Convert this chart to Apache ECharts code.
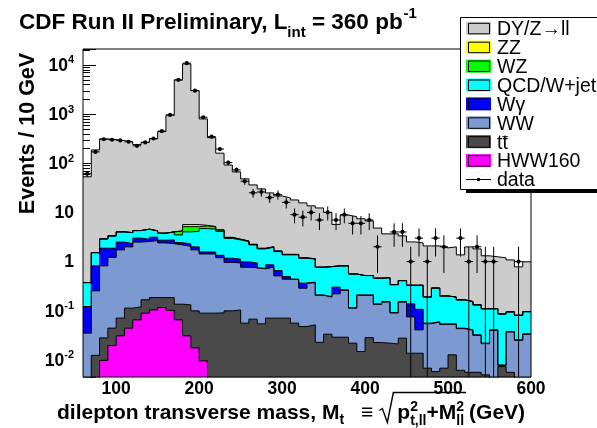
<!DOCTYPE html>
<html>
<head>
<meta charset="utf-8">
<script src="https://cdn.jsdelivr.net/npm/echarts@6/dist/echarts.min.js"></script>
<style>
  html, body { margin: 0; padding: 0; background: #ffffff; }
  #chart { width: 597px; height: 428px; }
</style>
</head>
<body>
<div id="chart"></div>
<script>
// Lower edges of the 10 GeV bins in transverse mass (GeV)
const binLow = [60, 70, 80, 90, 100, 110, 120, 130, 140, 150, 160, 170, 180, 190, 200, 210, 220, 230,
  240, 250, 260, 270, 280, 290, 300, 310, 320, 330, 340, 350, 360, 370, 380, 390, 400, 410, 420, 430,
  440, 450, 460, 470, 480, 490, 500, 510, 520, 530, 540, 550, 560, 570, 580, 590];
const BIN_WIDTH = 10;
const X_MIN = 60;
const X_MAX = 600;

// Stacked totals per bin (events / 10 GeV), each one including every process below it
const topDY = [53, 186, 312, 302, 288, 271, 239, 267, 312, 439, 946, 4930, 10430, 2990, 795, 331, 160, 92,
  66.6, 48, 36.2, 30, 24.9, 21.6, 19.7, 17.9, 15.6, 13.6, 12.3, 10.0, 5.7, 8.8, 8.2, 7.4, 6.7, 4.8, 3.66, 3.66,
  3.33, 2.51, 2.40, 2.08, 2.08, 1.90, 1.99, 1.37, 1.99, 1.81, 1.31, 1.25, 1.19, 1.08, 0.78, 0.99];
const topZZ = [0.374, 1.52, 2.89, 3.33, 4.02, 3.88, 4.27, 4.56, 4.21, 3.78, 4.02, 4.21, 5.65, 5.65, 5.45, 5.14, 4.41, 3.10,
  2.85, 2.62, 2.24, 1.86, 2.00, 1.64, 1.40, 1.40, 1.19, 1.14, 0.77, 0.79, 0.82, 0.82, 0.56, 0.52, 0.52, 0.46, 0.47, 0.34,
  0.41, 0.33, 0.33, 0.19, 0.29, 0.20, 0.19, 0.167, 0.154, 0.132, 0.110, 0.110, 0.086, 0.095, 0.081, 0.096];
const topWZ = [0.374, 1.52, 2.89, 3.33, 4.02, 3.88, 4.27, 4.56, 4.21, 3.78, 4.02, 4.21, 5.14, 5.14, 5.32, 5.14, 4.41, 3.10,
  2.85, 2.62, 2.24, 1.86, 2.00, 1.64, 1.40, 1.40, 1.19, 1.14, 0.77, 0.79, 0.82, 0.82, 0.56, 0.52, 0.52, 0.46, 0.47, 0.34,
  0.41, 0.33, 0.33, 0.19, 0.29, 0.20, 0.19, 0.167, 0.154, 0.132, 0.110, 0.110, 0.086, 0.095, 0.081, 0.096];
const topQCD = [0.374, 1.52, 2.89, 3.33, 4.02, 3.88, 4.27, 4.56, 4.21, 3.78, 4.02, 3.49, 4.02, 4.11, 4.68, 4.56, 4.11, 2.96,
  2.76, 2.55, 2.18, 1.81, 1.96, 1.60, 1.37, 1.37, 1.17, 1.12, 0.77, 0.79, 0.82, 0.82, 0.56, 0.52, 0.52, 0.46, 0.47, 0.34,
  0.41, 0.33, 0.33, 0.19, 0.29, 0.20, 0.19, 0.167, 0.154, 0.132, 0.110, 0.110, 0.086, 0.095, 0.081, 0.096];
const topWgamma = [0.122, 0.818, 1.87, 1.87, 2.49, 2.32, 2.99, 2.85, 3.13, 2.72, 2.76, 2.43, 2.29, 1.99, 1.57, 1.56, 1.34, 1.17,
  1.12, 0.986, 0.94, 0.734, 0.857, 0.656, 0.495, 0.439, 0.364, 0.381, 0.210, 0.194, 0.302, 0.266, 0.116, 0.210, 0.210, 0.138,
  0.154, 0.092, 0.154, 0.138, 0.107, 0.056, 0.060, 0.054, 0.054, 0.0443, 0.0409, 0.0324, 0.0219, 0.0409, 0.0079, 0.0378,
  0.0256, 0.0339];
const topWW = [0.0351, 0.254, 0.818, 1.22, 1.73, 1.99, 2.49, 2.57, 2.67, 2.40, 2.31, 2.18, 2.04, 1.73, 1.43, 1.43, 1.20, 0.963,
  0.94, 0.769, 0.752, 0.711, 0.769, 0.512, 0.439, 0.429, 0.288, 0.369, 0.206, 0.190, 0.221, 0.260, 0.113, 0.206, 0.206, 0.135,
  0.150, 0.090, 0.150, 0.075, 0.0409, 0.0547, 0.0589, 0.053, 0.053, 0.0433, 0.040, 0.0316, 0.0214, 0.040, 0.00777, 0.0369,
  0.025, 0.0331];
const topTT = [0, 0.0124, 0.0281, 0.0443, 0.0708, 0.113, 0.120, 0.167, 0.185, 0.185, 0.185, 0.136, 0.132, 0.0995, 0.0894,
  0.0894, 0.0906, 0.0995, 0.104, 0.056, 0.0675, 0.0542, 0.0708, 0.0708, 0.0708, 0.056, 0.0477, 0.0517, 0.0228, 0.0334, 0.029,
  0.029, 0.0219, 0.0148, 0.0284, 0.0226, 0.0219, 0.0212, 0.0277, 0.0137, 0.0137, 0.0068, 0.0058, 0.0068, 0.0127, 0.00615,
  0.0056, 0.0056, 0.00498, 0, 0.00734, 0.0056, 0, 0];
const topHWW = [0, 0, 0.0098, 0.0196, 0.0309, 0.0443, 0.0653, 0.0894, 0.104, 0.116, 0.102, 0.0653, 0.0309, 0.0176, 0.0096,
  0, 0, 0, 0, 0, 0, 0, 0, 0, 0, 0, 0, 0, 0, 0, 0, 0, 0, 0, 0, 0, 0, 0, 0, 0, 0, 0, 0, 0, 0, 0, 0, 0, 0, 0, 0, 0, 0, 0];

// Observed events per bin
const dataCounts = [61, 170, 307, 300, 290, 273, 226, 265, 318, 450, 960, 4950, 10800, 2990, 860, 347, 194, 103, 73, 43,
  25, 26, 20, 23, 16, 9, 8, 10, 7, 10, 7, 9, 6, 6, 7, 2, 0, 4, 4, 1, 3, 1, 3, 2, 0, 3, 1, 2, 1, 1, 0, 0, 1, 0];

// Minor tick positions on the logarithmic event axis
const minorTicks = [0.005, 0.006, 0.007, 0.008, 0.009, 0.02, 0.03, 0.04, 0.05, 0.06, 0.07, 0.08, 0.09,
  0.2, 0.3, 0.4, 0.5, 0.6, 0.7, 0.8, 0.9, 2, 3, 4, 5, 6, 7, 8, 9, 20, 30, 40, 50, 60, 70, 80, 90,
  200, 300, 400, 500, 600, 700, 800, 900, 2000, 3000, 4000, 5000, 6000, 7000, 8000, 9000, 20000];

const Y_MIN = 0.0045;
const Y_MAX = 21000;
const EMPTY = 1e-4; // empty bins sit below the visible range

// Drawing order: largest stack total first, each layer painted over the previous one
const layers = [
  { name: 'DY/Z\u2192ll', color: '#cccccc', tops: topDY },
  { name: 'ZZ', color: '#ffff00', tops: topZZ },
  { name: 'WZ', color: '#00ff00', tops: topWZ },
  { name: 'QCD/W+jets', color: '#00ffff', tops: topQCD },
  { name: 'W\u03b3', color: '#0000ff', tops: topWgamma },
  { name: 'WW', color: '#7d99d1', tops: topWW },
  { name: 'tt', color: '#4a4a4a', tops: topTT, bar: true },
  { name: 'HWW160', color: '#ff00ff', tops: topHWW }
];

const FONT = '"Liberation Sans", Arial, Helvetica, sans-serif';

function stepData(vals) {
  const pts = vals.map((v, i) => [binLow[i], v > 0 ? v : EMPTY]);
  pts.push([X_MAX, pts[pts.length - 1][1]]);
  return pts;
}

const histSeries = layers.map(l => ({
  type: 'line',
  name: l.name,
  data: stepData(l.tops),
  step: 'end',
  symbol: 'none',
  showSymbol: false,
  silent: true,
  clip: true,
  z: 2,
  lineStyle: { color: '#000000', width: 1 },
  areaStyle: { color: l.color, opacity: 1, origin: 'start' }
}));

const minorTickSeries = {
  type: 'custom',
  name: 'minor ticks',
  silent: true,
  z: 1,
  data: minorTicks.map(v => [X_MIN, v]),
  renderItem(params, api) {
    const p = api.coord([api.value(0), api.value(1)]);
    return {
      type: 'line',
      shape: { x1: p[0], y1: Math.round(p[1]) + 0.5, x2: p[0] + 7, y2: Math.round(p[1]) + 0.5 },
      style: { stroke: '#000000', lineWidth: 1 }
    };
  }
};

const dataSeries = {
  type: 'custom',
  name: 'data',
  silent: true,
  z: 5,
  data: dataCounts.map((n, i) => [binLow[i], n]).filter(d => d[1] > 0),
  renderItem(params, api) {
    const lo = api.value(0);
    const n = api.value(1);
    const err = Math.sqrt(n);
    const cs = params.coordSys;
    const yBottom = cs.y + cs.height;
    const xc = lo + BIN_WIDTH / 2;
    const c = api.coord([xc, n]);
    const yTop = api.coord([xc, n + err])[1];
    const yLow = n - err > 0 ? Math.min(api.coord([xc, n - err])[1], yBottom) : yBottom;
    const xl = api.coord([lo, n])[0];
    const xr = api.coord([lo + BIN_WIDTH, n])[0];
    return {
      type: 'group',
      children: [
        { type: 'line', shape: { x1: c[0], y1: yTop, x2: c[0], y2: yLow }, style: { stroke: '#000', lineWidth: 1 } },
        { type: 'line', shape: { x1: xl, y1: c[1], x2: xr, y2: c[1] }, style: { stroke: '#000', lineWidth: 1 } },
        { type: 'circle', shape: { cx: c[0], cy: c[1], r: 2.1 }, style: { fill: '#000' } }
      ]
    };
  }
};

// Text made of runs with superscripts/subscripts, laid out left to right
const measureCtx = document.createElement('canvas').getContext('2d');
function fontOf(size, bold) {
  return (bold ? 'bold ' : '') + size + 'px ' + FONT;
}
function textWidth(text, size, bold) {
  measureCtx.font = fontOf(size, bold);
  return measureCtx.measureText(text).width;
}
function textAt(text, x, baseline, size, bold, extra) {
  return Object.assign({
    type: 'text', x: x, y: baseline - 0.34 * size, z: 50, silent: true,
    style: { text: text, font: fontOf(size, bold), fill: '#000', align: 'left', verticalAlign: 'middle' }
  }, extra || {});
}

const graphics = [];

// Title
(function () {
  const base = 30, big = 22.5, small = 15;
  let x = 19;
  graphics.push(textAt('CDF Run II Preliminary, L', x, base, big, true));
  x += textWidth('CDF Run II Preliminary, L', big, true);
  graphics.push(textAt('int', x, base + 7.5, small, true));
  x += textWidth('int', small, true);
  graphics.push(textAt(' = 360 pb', x, base, big, true));
  x += textWidth(' = 360 pb', big, true);
  graphics.push(textAt('-1', x + 1, base - 11, small, true));
})();

// Vertical axis title
graphics.push({
  type: 'text', x: 28.5, y: 133.5, rotation: Math.PI / 2, z: 50, silent: true,
  style: { text: 'Events / 10 GeV', font: fontOf(21.5, true), fill: '#000', align: 'center', verticalAlign: 'middle' }
});

// Horizontal axis title with the square-root expression
(function () {
  const base = 420.5, big = 21, small = 14;
  let x = 57;
  const t1 = 'dilepton transverse mass, M';
  graphics.push(textAt(t1, x, base, big, true));
  x += textWidth(t1, big, true);
  graphics.push(textAt('t', x, base + 4, small, true));
  x += textWidth('t', small, true) + 17;
  graphics.push(textAt('\u2261', x, base, big, true));
  x += textWidth('\u2261', big, true) + 6;
  const rx = x;
  x += 18;
  graphics.push(textAt('p', x, base, big, true));
  x += textWidth('p', big, true);
  graphics.push(textAt('2', x, base - 9, small, true));
  graphics.push(textAt('t,ll', x, base + 5, small, true));
  x += Math.max(textWidth('2', small, true), textWidth('t,ll', small, true));
  graphics.push(textAt('+M', x, base, big, true));
  x += textWidth('+M', big, true);
  graphics.push(textAt('2', x, base - 9, small, true));
  graphics.push(textAt('ll', x, base + 5, small, true));
  x += Math.max(textWidth('2', small, true), textWidth('ll', small, true)) + 2;
  graphics.push({
    type: 'polyline', z: 50, silent: true,
    shape: { points: [[rx, base - 10], [rx + 3, base - 12], [rx + 8, base + 2], [rx + 14, base - 28], [x, base - 28]] },
    style: { stroke: '#000', lineWidth: 1.4, fill: null }
  });
  graphics.push(textAt('(GeV)', x + 3, base, big, true));
})();

// Legend box
(function () {
  const left = 460.5, top = 17.5, rowH = 18.9, firstRow = 28.3;
  graphics.push({ type: 'rect', z: 60, silent: true, shape: { x: 466, y: 189.5, width: 140, height: 3.5 }, style: { fill: '#000' } });
  graphics.push({ type: 'rect', z: 61, silent: true, shape: { x: left, y: top, width: 150, height: 172 }, style: { fill: '#fff', stroke: '#000', lineWidth: 1 } });
  layers.forEach((l, i) => {
    const yc = firstRow + rowH * i;
    graphics.push({ type: 'rect', z: 62, silent: true, shape: { x: 466, y: yc - 6.5, width: 25, height: 13 }, style: { fill: l.color } });
    graphics.push({ type: 'rect', z: 63, silent: true, shape: { x: 468.5, y: yc - 5, width: 21, height: 10.5 }, style: { fill: null, stroke: '#000', lineWidth: 1 } });
    graphics.push({
      type: 'text', x: 497, y: yc + 1.5, z: 63, silent: true,
      style: { text: l.name, font: fontOf(19.5, false), fill: '#000', align: 'left', verticalAlign: 'middle' }
    });
    if (l.bar) {
      const tw = textWidth('t', 19.5, false);
      graphics.push({ type: 'line', z: 63, silent: true, shape: { x1: 497 + tw, y1: yc - 5, x2: 497 + 2 * tw, y2: yc - 5 }, style: { stroke: '#000', lineWidth: 1 } });
    }
  });
  const yd = firstRow + rowH * layers.length;
  graphics.push({ type: 'line', z: 62, silent: true, shape: { x1: 466, y1: yd, x2: 491, y2: yd }, style: { stroke: '#000', lineWidth: 1 } });
  graphics.push({ type: 'circle', z: 63, silent: true, shape: { cx: 478.5, cy: yd, r: 1.8 }, style: { fill: '#000' } });
  graphics.push({
    type: 'text', x: 497, y: yd + 1.5, z: 63, silent: true,
    style: { text: 'data', font: fontOf(19.5, false), fill: '#000', align: 'left', verticalAlign: 'middle' }
  });
})();

const chart = echarts.init(document.getElementById('chart'), null, { renderer: 'canvas' });
chart.setOption({
  animation: false,
  backgroundColor: '#ffffff',
  grid: { left: 83, top: 49, right: 66, bottom: 51, show: true, z: 4, borderColor: '#000', borderWidth: 1, backgroundColor: 'transparent' },
  xAxis: {
    type: 'value', min: X_MIN, max: X_MAX, interval: 20,
    axisLine: { show: false }, axisTick: { show: false }, splitLine: { show: false },
    axisLabel: {
      margin: 3, color: '#000', fontFamily: FONT, fontWeight: 'bold', fontSize: 17.5,
      formatter: v => (v % 100 === 0 && v >= 100) ? String(v) : ''
    }
  },
  yAxis: {
    type: 'log', logBase: 10, min: Y_MIN, max: Y_MAX,
    axisLine: { show: false }, splitLine: { show: false },
    axisTick: { show: true, inside: true, length: 13, lineStyle: { color: '#000', width: 1 } },
    axisLabel: {
      margin: 9, color: '#000',
      formatter: v => {
        const lg = Math.log10(v);
        const e = Math.round(lg);
        if (Math.abs(lg - e) > 1e-6) return '';
        if (e === 0) return '{b|1}{s|\u200b}';
        if (e === 1) return '{b|10}{s|\u200b}';
        return '{b|10}{s|' + e + '}';
      },
      rich: {
        b: { fontFamily: FONT, fontWeight: 'bold', fontSize: 17.5, lineHeight: 20, verticalAlign: 'bottom', color: '#000' },
        s: { fontFamily: FONT, fontWeight: 'bold', fontSize: 11, lineHeight: 10, verticalAlign: 'top', padding: [0, 0, 16, 0], color: '#000' }
      }
    }
  },
  graphic: { elements: graphics },
  series: [minorTickSeries].concat(histSeries, [dataSeries])
});
</script>
</body>
</html>
